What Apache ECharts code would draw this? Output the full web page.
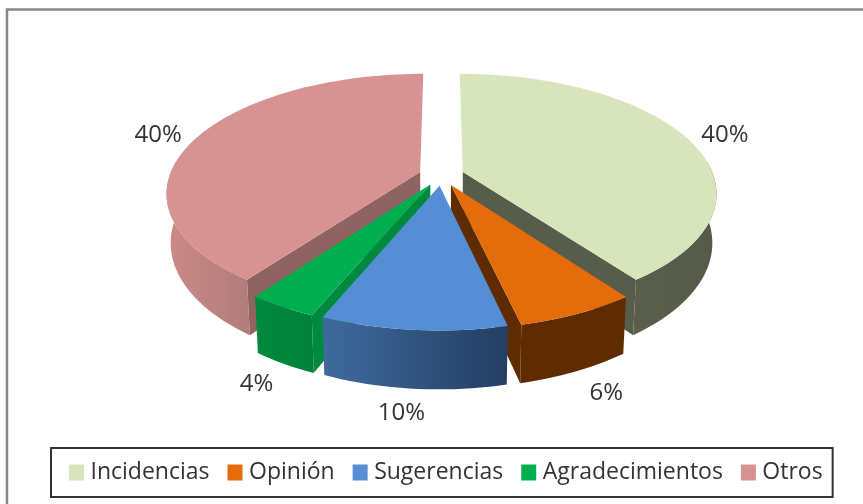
<!DOCTYPE html>
<html>
<head>
<meta charset="utf-8">
<style>html,body{margin:0;padding:0;background:#fff}#c{width:863px;height:504px}</style>
<script src="https://cdn.jsdelivr.net/npm/echarts@6/dist/echarts.min.js"></script>
</head>
<body>
<div id="c"></div>
<script>
const categories = ['Incidencias', 'Opinión', 'Sugerencias', 'Agradecimientos', 'Otros'];
const values = [40, 6.4, 9.9, 3.7, 40];
const topColors = ['#D7E4BC', '#E46C0A', '#558ED5', '#00B050', '#D79391'];
const wallFrom = ['#5A5F4C', '#5E2C00', '#3F6A9E', '#008A3E', '#CB8A88'];
const wallTo = ['#565A48', '#5E2C00', '#233E62', '#00803A', '#B07C7B'];
const faceColors = ['#585C4A', '#5E2C00', '#2F5180', '#008A3E', '#8F6362'];
const labelNudgeX = [0, 11, -8, -5, 0];

// Projection of the exploded disc
const CX = 441.5, CY = 175.3, R = 250.5, RY = 116, K = 0.17, H = 48, EXPLODE = 0.09;
const LABEL_R_BACK = 1.27, LABEL_R_FRONT = 1.22, LABEL_Z_BACK = 0.06;
const total = values.reduce((a, b) => a + b, 0);

function project(u, v, z) {
  const s = 1 / (1 - K * v);
  return [CX + R * u * s * (1 - 0.015 * z), CY + RY * v * s + H * z * s];
}
function rim(t0, t1, ox, oy, z) {
  const pts = [], n = Math.max(2, Math.ceil(Math.abs(t1 - t0) / 0.03));
  for (let i = 0; i <= n; i++) {
    const t = t0 + (t1 - t0) * i / n;
    pts.push(project(ox + Math.sin(t), oy - Math.cos(t), z));
  }
  return pts;
}
function sliceAngles(i) {
  let before = 0;
  for (let j = 0; j < i; j++) before += values[j];
  return [before / total * 2 * Math.PI, (before + values[i]) / total * 2 * Math.PI];
}
function renderSlice(i) {
  const [t0, t1] = sliceAngles(i);
  const mid = (t0 + t1) / 2;
  const ox = EXPLODE * Math.sin(mid), oy = -EXPLODE * Math.cos(mid);
  const children = [];
  const face = (t) => {
    const a0 = project(ox, oy, 0), a1 = project(ox, oy, 1);
    const c0 = project(ox + Math.sin(t), oy - Math.cos(t), 0), c1 = project(ox + Math.sin(t), oy - Math.cos(t), 1);
    children.push({ type: 'polygon', shape: { points: [a0, c0, c1, a1] }, style: { fill: faceColors[i] } });
  };
  if (t0 > Math.PI) face(t0);
  if (t1 < Math.PI) face(t1);
  const w0 = Math.max(t0, Math.PI * 0.47), w1 = Math.min(t1, Math.PI * 1.53);
  if (w1 > w0) {
    const pts = rim(w0, w1, ox, oy, 0).concat(rim(w0, w1, ox, oy, 1).reverse());
    children.push({
      type: 'polygon', shape: { points: pts },
      style: { fill: new echarts.graphic.LinearGradient(0, 0, 1, 0, [
        { offset: 0, color: wallFrom[i] }, { offset: 1, color: wallTo[i] }]) }
    });
  }
  children.push({
    type: 'polygon',
    shape: { points: [project(ox, oy, 0)].concat(rim(t0, t1, ox, oy, 0)) },
    style: { fill: topColors[i] }
  });
  const front = -Math.cos(mid) > 0;
  const rho = front ? LABEL_R_FRONT : LABEL_R_BACK;
  const lp = project(rho * Math.sin(mid), -rho * Math.cos(mid), front ? 1 : LABEL_Z_BACK);
  children.push({
    type: 'text', z2: 50,
    style: {
      x: lp[0] + labelNudgeX[i], y: lp[1], text: Math.round(values[i] / total * 100) + '%',
      align: 'center', verticalAlign: 'middle',
      font: '24px "Open Sans"', fill: '#333333'
    }
  });
  return { type: 'group', children };
}

const chart = echarts.init(document.getElementById('c'), null, { renderer: 'canvas' });
chart.setOption({
  animation: false,
  backgroundColor: '#ffffff',
  graphic: [{
    type: 'rect', z: -1, shape: { x: 7, y: 9.5, width: 900, height: 600 },
    style: { fill: '#ffffff', stroke: '#888888', lineWidth: 2.5 }
  }],
  legend: {
    left: 51, top: 448,
    data: categories,
    icon: 'rect',
    itemWidth: 15, itemHeight: 16, itemGap: 18,
    padding: [13, 10, 13, 18],
    borderColor: '#333333', borderWidth: 2,
    textStyle: { fontFamily: 'Open Sans', fontSize: 23, color: '#333333', padding: [0, 0, 0, 1.5] }
  },
  series: categories.map((name, i) => {
    const [t0, t1] = sliceAngles(i);
    return {
      type: 'custom', name, coordinateSystem: 'none', silent: true,
      z: Math.round(10 + 10 * -Math.cos((t0 + t1) / 2)),
      itemStyle: { color: topColors[i] },
      data: [values[i]],
      renderItem: () => renderSlice(i)
    };
  })
});
</script>
</body>
</html>
